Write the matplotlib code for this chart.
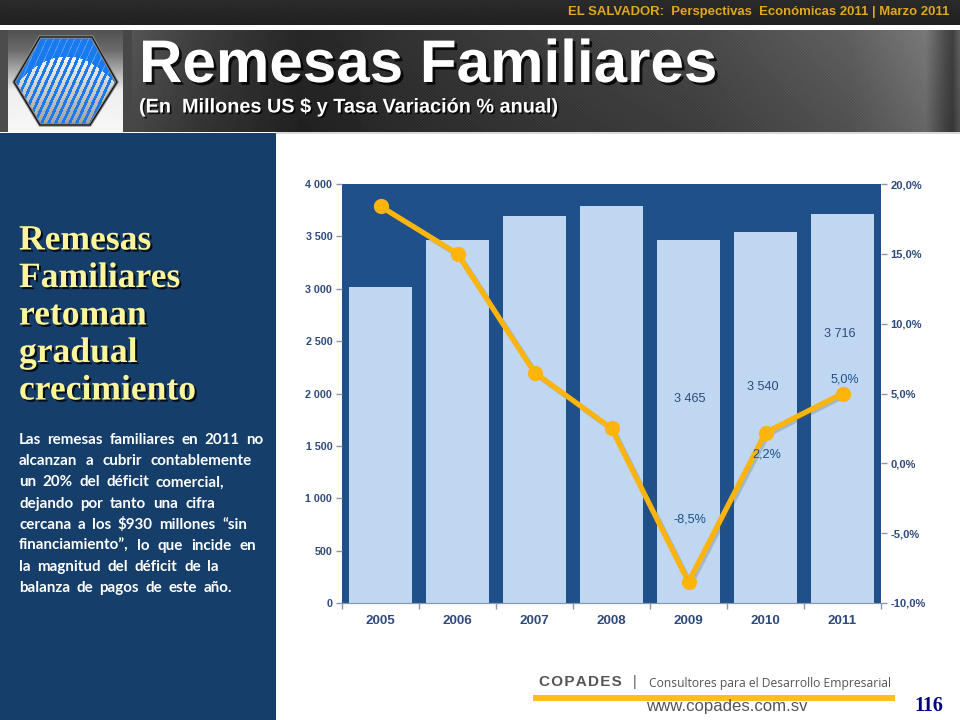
#!/usr/bin/env python3

import numpy as np
import matplotlib
matplotlib.use('Agg')
from matplotlib import pyplot as pp
from matplotlib import patheffects as pe
from matplotlib.patches import Polygon, Rectangle

################################################################################
# Data
years = ['2005', '2006', '2007', '2008', '2009', '2010', '2011']
remesas = [3016, 3465, 3695, 3788, 3465, 3540, 3716]
variacion = [18.4, 15.0, 6.5, 2.5, -8.5, 2.2, 5.0]

left_ticks = [0, 500, 1000, 1500, 2000, 2500, 3000, 3500, 4000]
left_labels = ['0', '500', '1 000', '1 500', '2 000', '2 500', '3 000', '3 500', '4 000']
right_ticks = [-10, -5, 0, 5, 10, 15, 20]
right_labels = ['-10,0%', '-5,0%', '0,0%', '5,0%', '10,0%', '15,0%', '20,0%']

bar_notes = ['3 465', '3 540', '3 716']
pct_notes = ['-8,5%', '2,2%', '5,0%']

heading = ['Remesas', 'Familiares', 'retoman', 'gradual', 'crecimiento']
body = ['Las remesas familiares en 2011 no',
	'alcanzan a cubrir contablemente',
	'un 20% del déficit comercial,',
	'dejando por tanto una cifra',
	'cercana a los $930 millones “sin',
	'financiamiento”,  lo que incide en',
	'la magnitud del déficit de la',
	'balanza de pagos de este año.']
# where each body line ends in the slide (px)
body_right = [263, 252, 224, 215, 247, 256, 219, 232]

################################################################################
W, H = 960, 720
BLUE = '#1f5089'
LIGHT = '#c0d7f1'
GOLD = '#fdb50e'
INK = '#2f4a7c'

fig = pp.figure(figsize=(W/100, H/100), dpi=100, facecolor='white')

# page furniture is drawn in pixel coordinates on a full figure axes
bg = fig.add_axes([0, 0, 1, 1])
bg.set_xlim(0, W)
bg.set_ylim(H, 0)
bg.axis('off')

def text_shadow(dx=1.5, dy=-1.5, c='#000000', a=0.8):
	return [pe.SimplePatchShadow(offset=(dx, dy), shadow_rgbFace=c, alpha=a), pe.Normal()]

def gray(arr, box):
	bg.imshow(arr, extent=box, aspect='auto', cmap='gray', vmin=0, vmax=1,
		interpolation='bilinear', zorder=0.5)

# top strip
gray(np.linspace(0.17, 0.13, 25)[:, None], (0, W, 25, 0))

# banner: shade along x, lighter toward the right, with a fine diagonal weave
xs = np.array([132, 200, 300, 500, 700, 850, 925, 945, 952, 960], dtype=float)
vals = np.array([0.30, 0.22, 0.14, 0.20, 0.25, 0.33, 0.42, 0.26, 0.22, 0.34])
xx = np.arange(132, W)
yy = np.arange(30, 132)
XX, YY = np.meshgrid(xx, yy)
shade = np.interp(xx, xs, vals)[None, :]*np.linspace(1.1, 0.92, len(yy))[:, None]
shade = shade + 0.035*((XX+YY) % 3 == 0)*(XX > 360)
bg.imshow(shade, extent=(132, W, 132, 30), aspect='auto', cmap='gray', vmin=0, vmax=1,
	interpolation='nearest', zorder=0.5)

# logo panel with dark strips at each side
gray(np.full((2, 2), 0.30), (0, 8, 132, 30))
gray(np.interp(np.arange(102), [0, 20, 60, 101], [0.32, 0.42, 0.93, 0.97])[:, None], (8, 123, 132, 30))
gray(np.full((2, 2), 0.28), (123, 132, 132, 30))

# logo hexagon: blue on top, silver bars below a curved edge
hex_pts = [(40, 37), (92, 37), (117, 82), (90, 125), (40, 125), (14, 82)]
LX, LY = np.meshgrid(np.arange(10, 122), np.arange(34, 128))
phase = (LX + 0.45*LY) % 7.0
arc = 56 + 30*((LX-66)/52.0)**2
img = np.zeros(LX.shape + (3,))
img[...] = (0.10, 0.48, 0.94)
img[(phase < 1.2) & (LY <= arc)] = (0.30, 0.60, 0.95)
lit = (phase < 3.9) & (LY > arc)
tone = np.interp(LY, [50, 125], [1.0, 0.62])
img[lit] = np.stack([tone, tone, tone], axis=-1)[lit]
logo = bg.imshow(img, extent=(10, 122, 128, 34), aspect='auto', interpolation='nearest', zorder=3)
logo.set_clip_path(Polygon(hex_pts, closed=True, transform=bg.transData))
bg.add_patch(Polygon(hex_pts, closed=True, fc='none', ec='#8a8a8a', lw=2.4, zorder=3.3))
bg.add_patch(Polygon(hex_pts, closed=True, fc='none', ec='#111111', lw=0.9, zorder=3.4))

bg.text(949, 11.5, 'EL SALVADOR:  Perspectivas  Económicas 2011 | Marzo 2011', color='#e0a81c',
	family='Liberation Sans', fontweight='bold', fontsize=9.45, ha='right', va='center')
bg.text(139, 82, 'Remesas Familiares', color='white', family='Liberation Sans',
	fontweight='bold', fontsize=43.3, ha='left', va='baseline',
	path_effects=text_shadow(2, -2))
bg.text(139, 107, '(En  Millones US $ y Tasa Variación % anual)', color='white',
	family='Liberation Sans', fontweight='bold', fontsize=14.3, ha='left', va='center',
	path_effects=text_shadow(1.2, -1.2))

# side panel
bg.add_patch(Rectangle((0, 133), 276, H-133, fc='#153e6b', ec='none', zorder=1))
bg.add_patch(Rectangle((276, 132), W-276, 2, fc='#d9d9d9', ec='none', zorder=1))

for i, line in enumerate(heading):
	bg.text(19, 241 + i*37.5, line, color='#fdf59a', family='Liberation Serif',
		fontweight='bold', fontsize=25.6, ha='left', va='center', zorder=2,
		path_effects=text_shadow(1.5, -1.5))

# body text, stretched word by word to each line's end
rend = fig.canvas.get_renderer()
col_l = 19
for i, line in enumerate(body):
	y = 440 + i*21.2
	words = line.split()
	arts = [bg.text(0, y, w, color='white', family='Lato', fontweight='bold',
		fontsize=10.9, ha='left', va='center', zorder=2) for w in words]
	widths = [a.get_window_extent(rend).width for a in arts]
	gap = (body_right[i]-col_l-sum(widths))/(len(words)-1)
	x = col_l
	for a, w in zip(arts, widths):
		a.set_x(x)
		x += w + gap

################################################################################
# The chart itself
ax = fig.add_axes([342/W, 1-603/H, (881-342)/W, (603-184)/H])
pos = np.arange(len(years))
ax.set_facecolor(BLUE)
ax.bar(pos, remesas, width=0.82, color=LIGHT, zorder=2)
ax.set_xlim(-0.5, 6.5)
ax.set_ylim(0, 4000)
ax.set_yticks(left_ticks)
ax.set_yticklabels(left_labels)
ax.set_xticks(pos)
ax.set_xticklabels(years)
ax.set_xticks(np.arange(-0.5, 7), minor=True)
ax.tick_params(axis='x', which='major', length=0, pad=8.5, labelsize=9.6, labelcolor=INK)
ax.tick_params(axis='x', which='minor', length=4, color='#8a97ad', width=1)
ax.tick_params(axis='y', length=4, color='#8a97ad', width=1, pad=3, labelsize=7.7, labelcolor=INK)

ax2 = ax.twinx()
ax2.set_ylim(-10, 20)
ax2.set_yticks(right_ticks)
ax2.set_yticklabels(right_labels)
ax2.tick_params(axis='y', length=4, color='#8a97ad', width=1, pad=3, labelsize=8, labelcolor=INK)
ax2.plot(pos, variacion, color='#555555', alpha=0.25, lw=3.8, solid_joinstyle='round', zorder=4,
	transform=ax2.transData + matplotlib.transforms.ScaledTranslation(2/100, -2/100, fig.dpi_scale_trans))
ax2.plot(pos, variacion, color=GOLD, lw=3.8, marker='o', ms=10, mfc=GOLD, mec=GOLD,
	solid_joinstyle='round', zorder=5)

for axT in (ax, ax2):
	for name, sp in axT.spines.items():
		sp.set_visible(name == 'bottom')
		sp.set_color('#8a97ad')
	for lbl in axT.get_xticklabels() + axT.get_yticklabels():
		lbl.set_fontweight('bold')
		lbl.set_family('Liberation Sans')

# data labels sit at hand placed heights inside the bars
for x, txt, y, dx in zip(pos[4:], bar_notes, (1947, 2062, 2565), (0.01, -0.03, -0.04)):
	ax.text(x+dx, y, txt, color=INK, family='Liberation Sans', fontsize=9.1, ha='center',
		va='center', zorder=3)
for x, txt, y, dx in zip(pos[4:], pct_notes, (-4.05, 0.6, 6.0), (0.02, 0.02, 0.03)):
	ax2.text(x+dx, y, txt, color=BLUE, family='Liberation Sans', fontsize=9.1, ha='center',
		va='center', zorder=6)

################################################################################
# Footer
bg.text(539, 682, 'C\u200aO\u200aP\u200aA\u200aD\u200aE\u200aS', color='#555555',
	family=['Liberation Sans', 'DejaVu Sans'], fontweight='bold', fontsize=11, ha='left', va='center')
bg.text(635, 682, '|', color='#555555', family='Liberation Sans',
	fontsize=10, ha='center', va='center')
bg.text(649, 683, 'Consultores para el Desarrollo Empresarial', color='#555555',
	family='Open Sans', fontsize=8.75, ha='left', va='center')
bg.add_patch(Rectangle((533, 695), 362, 5.5, fc='#fdbf1a', ec='none', zorder=2))
bg.text(727, 706, 'www.copades.com.sv', color='#555555', family='Liberation Sans',
	fontsize=12.1, ha='center', va='center')
bg.text(928.5, 706, '116', color='#000080', family='Liberation Serif', fontweight='bold',
	fontsize=14.5, ha='center', va='center')

bg.set_xlim(0, W)
bg.set_ylim(H, 0)
fig.savefig('out.png', dpi=100, facecolor='white')
